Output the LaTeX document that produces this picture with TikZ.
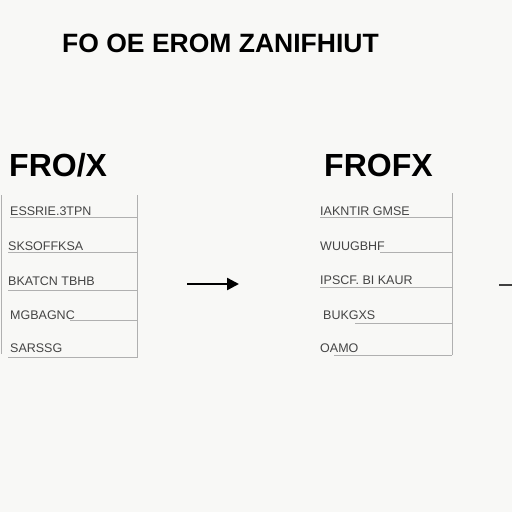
\documentclass[tikz,border=0pt]{standalone}
\usepackage{fontspec}
\setmainfont{Liberation Sans}
\usetikzlibrary{arrows.meta}
\definecolor{bg}{HTML}{F8F8F6}
\definecolor{rowtext}{HTML}{444444}
\definecolor{rule}{HTML}{B0B0B0}
\tikzset{
  titletext/.style={font=\bfseries\fontsize{26.5}{29}\selectfont, text=black, inner sep=0pt},
  headtext/.style={font=\bfseries\fontsize{32}{35}\selectfont, text=black, inner sep=0pt, anchor=west},
  rowlabel/.style={font=\fontsize{12.5}{14}\selectfont, text=rowtext, inner sep=0pt, anchor=west},
  rulel/.style={draw=rule, line width=1pt},
  flowarrow/.style={draw=black, line width=2.4pt, -{Triangle[length=12pt,width=12pt]}}
}
\begin{document}
\begin{tikzpicture}[x=1pt,y=-1pt]
\fill[bg] (0,0) rectangle (512,512);
\useasboundingbox (0,0) rectangle (512,512);

% title
\node[titletext, anchor=west] (title) at (62,43) {FO OE EROM ZANIFHIUT};

% headings
\node[headtext] (hl) at (9,165) {FRO/X};
\node[headtext] (hr) at (324,165) {FROFX};

% left table
\draw[rulel] (1,195) -- (1,354);
\draw[rulel] (137,195) -- (137,358);
\draw[rulel] (10,217) -- (137,217);
\draw[rulel] (8,252) -- (137,252);
\draw[rulel] (8,290) -- (137,290);
\draw[rulel] (70,320) -- (137,320);
\draw[rulel] (8,357) -- (137,357);
\node[rowlabel] (l1) at (10,211) {ESSRIE.3TPN};
\node[rowlabel] (l2) at (8,246) {SKSOFFKSA};
\node[rowlabel] (l3) at (8,281) {BKATCN TBHB};
\node[rowlabel] (l4) at (10,315) {MGBAGNC};
\node[rowlabel] (l5) at (10,348) {SARSSG};

% right table
\draw[rulel] (452,193) -- (452,355);
\draw[rulel] (320,217) -- (452,217);
\draw[rulel] (380,252) -- (452,252);
\draw[rulel] (320,287) -- (452,287);
\draw[rulel] (355,323) -- (452,323);
\draw[rulel] (334,355) -- (452,355);
\node[rowlabel] (r1) at (320,211) {IAKNTIR GMSE};
\node[rowlabel] (r2) at (320,246) {WUUGBHF};
\node[rowlabel] (r3) at (320,280) {IPSCF. BI KAUR};
\node[rowlabel] (r4) at (323,315) {BUKGXS};
\node[rowlabel] (r5) at (320,348) {OAMO};

% arrows
\coordinate (a1) at (187,284);
\coordinate (a2) at (239,284);
\draw[flowarrow] (a1) -- (a2);
\coordinate (b1) at (499,285);
\coordinate (b2) at (512,285);
\draw[draw=black!75, line width=2.4pt] (b1) -- (b2);
\end{tikzpicture}
\end{document}
